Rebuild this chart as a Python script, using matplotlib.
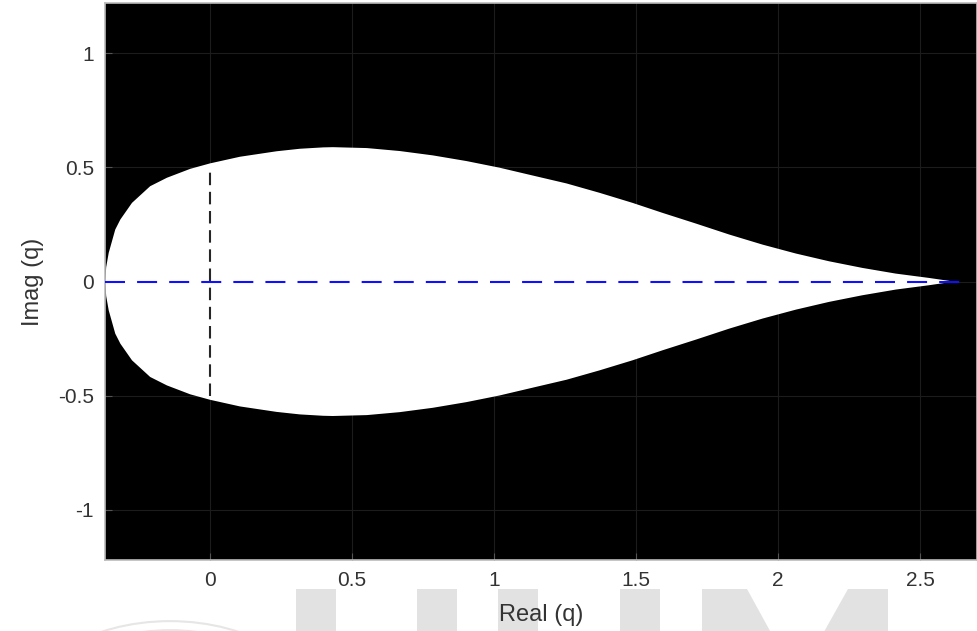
import numpy as np
import matplotlib
matplotlib.use("Agg")
import matplotlib.pyplot as plt
from matplotlib.patches import Circle, Polygon

plt.rcParams['font.family'] = ['Liberation Sans', 'DejaVu Sans']

# upper boundary of the white region (lower half is the mirror image)
re_q = [-0.369, -0.366, -0.357, -0.334, -0.316, -0.275, -0.211, -0.152,
        -0.070, 0.0, 0.105, 0.234, 0.316, 0.398, 0.432, 0.552, 0.668,
        0.784, 0.903, 1.019, 1.135, 1.255, 1.371, 1.487, 1.593, 1.711,
        1.828, 1.945, 2.062, 2.179, 2.296, 2.414, 2.531, 2.619]
im_q = [0.0, 0.063, 0.126, 0.228, 0.272, 0.345, 0.418, 0.455,
        0.494, 0.518, 0.547, 0.571, 0.582, 0.588, 0.589, 0.585, 0.572,
        0.553, 0.528, 0.499, 0.465, 0.430, 0.389, 0.345, 0.301, 0.254,
        0.206, 0.162, 0.123, 0.089, 0.060, 0.035, 0.016, 0.0]

# reference lines
axis_x = [-0.369, 2.66]
axis_y = [0.0, 0.0]
vert_x = [0.0, 0.0]
vert_y = [-0.5, 0.5]

xticks = [0, 0.5, 1, 1.5, 2, 2.5]
yticks = [-1, -0.5, 0, 0.5, 1]

W, H = 977, 631
fig = plt.figure(figsize=(W / 100, H / 100), dpi=100)


def px(x, y):
    return (x / W, (H - y) / H)


# faint watermark (UUM blocks and seal rings) below the plot
wm = '#e2e2e2'
for x0, x1 in [(296, 336), (417, 457), (498, 538), (620, 660)]:
    fig.patches.append(Polygon([px(x0, 640), px(x0, 589), px(x1, 589), px(x1, 640)],
                               closed=True, transform=fig.transFigure,
                               fc=wm, ec='none', zorder=0))
fig.patches.append(Polygon([px(702, 640), px(702, 589), px(747, 589), px(797, 680),
                            px(848, 589), px(888, 589), px(888, 640)],
                           closed=True, transform=fig.transFigure,
                           fc=wm, ec='none', zorder=0))
for r in (150, 136):
    fig.patches.append(Circle(px(170, 718), r / W, transform=fig.transFigure,
                              fill=False, ec='#e6e6e6', lw=1.5, zorder=0))

ax = fig.add_axes([0.1075, 0.1125, 0.8925, 0.8825])
ax.set_facecolor('black')
ax.set_zorder(1)

x = np.array(re_q)
y = np.array(im_q)
ax.fill(np.concatenate([x, x[::-1]]), np.concatenate([y, -y[::-1]]),
        color='white', lw=0, zorder=2)

ax.plot(vert_x, vert_y, color='#262626', lw=1.5, dashes=(6, 3.2), zorder=3)
ax.plot(axis_x, axis_y, color='#1010ff', lw=1.5, dashes=(9.6, 5.8), zorder=4)

ax.set_xlim(-0.37, 2.70)
ax.set_ylim(-1.22, 1.22)
ax.set_xticks(xticks)
ax.set_yticks(yticks)
ax.set_xticklabels(['0', '0.5', '1', '1.5', '2', '2.5'])
ax.set_yticklabels(['-1', '-0.5', '0', '0.5', '1'])
ax.grid(True, color='#1c1c1c', lw=0.8)
ax.set_axisbelow(True)
ax.tick_params(direction='in', length=5, color='#555555', labelsize=15,
               labelcolor='#333333', pad=8, top=False, right=False)
for s in ax.spines.values():
    s.set_color('#bbbbbb')
    s.set_linewidth(1.2)

ax.set_xlabel('Real (q)', fontsize=17, color='#333333', labelpad=10)
ax.set_ylabel('Imag (q)', fontsize=17, color='#333333', labelpad=10)

fig.savefig('out.png', dpi=100, facecolor='white')
